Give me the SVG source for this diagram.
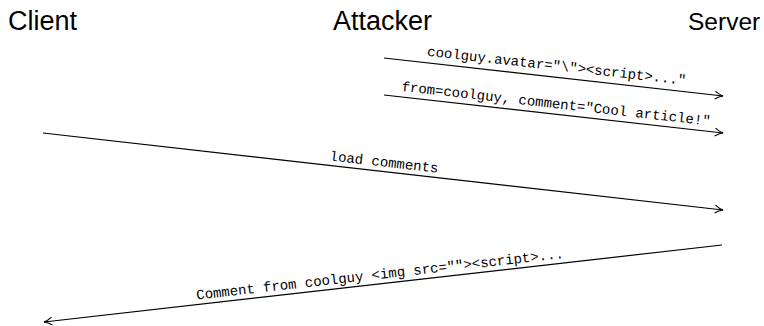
<svg xmlns="http://www.w3.org/2000/svg" width="764" height="326" viewBox="0 0 764 326">
<style>
.actor{font-family:"Liberation Sans",Arial,sans-serif;font-size:27px;fill:#000}
.lbl{font-family:"Liberation Mono","Courier New",monospace;font-size:14px;fill:#000;text-anchor:middle}
.msg{stroke:#000;stroke-width:1.2;fill:none}
</style>
<defs>
<marker id="arr" viewBox="0 0 10 10" refX="9" refY="5" markerWidth="10" markerHeight="10" markerUnits="userSpaceOnUse" orient="auto">
<path d="M1,1 Q5,4 9,5 Q5,6 1,9" fill="none" stroke="#000" stroke-width="1.1"/>
</marker>
</defs>
<rect width="764" height="326" fill="#fff"/>
<g id="client"><text class="actor" x="8" y="30">Client</text></g>
<g id="attacker"><text class="actor" x="333" y="30">Attacker</text></g>
<g id="server"><text class="actor" x="688" y="30" style="font-size:24.5px">Server</text></g>
<g id="connectors">
<line class="msg" x1="384" y1="58" x2="723" y2="96" marker-end="url(#arr)"/>
<line class="msg" x1="384" y1="95" x2="723" y2="133" marker-end="url(#arr)"/>
<line class="msg" x1="43" y1="133" x2="723" y2="210" marker-end="url(#arr)"/>
<line class="msg" x1="722" y1="245" x2="44" y2="322" marker-end="url(#arr)"/>
<g transform="translate(553.5,77) rotate(6.40)"><text class="lbl" x="2" y="-7">coolguy.avatar="\"&gt;&lt;script&gt;..."</text></g>
<g transform="translate(553.5,114) rotate(6.40)"><text class="lbl" x="1.5" y="-6">from=coolguy, comment="Cool article!"</text></g>
<g transform="translate(383,171.5) rotate(6.46)"><text class="lbl" x="0" y="-5">load comments</text></g>
<g transform="translate(383,283.5) rotate(-6.46)"><text class="lbl" x="-2" y="-5">Comment from coolguy &lt;img src=""&gt;&lt;script&gt;...</text></g>
</g>
</svg>
